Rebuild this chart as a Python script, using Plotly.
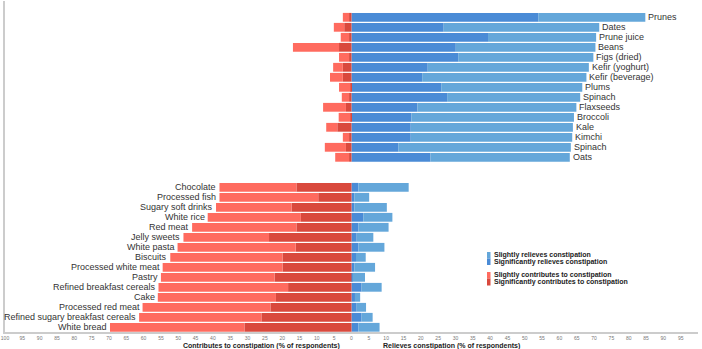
import plotly.graph_objects as go

# ---------------- data (percent of respondents) ----------------
top_foods = ["Prunes", "Dates", "Prune juice", "Beans", "Figs (dried)", "Kefir (yoghurt)",
             "Kefir (beverage)", "Plums", "Spinach", "Flaxseeds", "Broccoli", "Kale",
             "Kimchi", "Spinach", "Oats"]
top_sig_relieve = [53.9, 26.6, 39.4, 30.1, 30.8, 22.0, 20.4, 25.9, 27.6, 19.0, 17.3, 17.1, 17.1, 13.5, 22.8]
top_sli_relieve = [30.9, 44.9, 31.2, 40.3, 39.0, 46.5, 47.4, 40.7, 38.4, 45.9, 46.9, 46.8, 46.6, 49.8, 40.2]
top_sig_contrib = [0.7, 2.1, 0.7, 3.6, 0.7, 2.5, 2.5, 0.3, 0.7, 1.6, 0.3, 4.1, 0.7, 1.6, 0.7]
top_sli_contrib = [1.8, 3.0, 2.4, 13.3, 2.9, 2.8, 3.7, 3.3, 2.1, 6.6, 3.4, 3.2, 1.8, 6.1, 4.0]

bot_foods = ["Chocolate", "Processed fish", "Sugary soft drinks", "White rice", "Red meat",
             "Jelly sweets", "White pasta", "Biscuits", "Processed white meat", "Pastry",
             "Refined breakfast cereals", "Cake", "Processed red meat",
             "Refined sugary breakfast cereals", "White bread"]
bot_sig_contrib = [15.9, 9.6, 17.3, 14.6, 15.9, 23.8, 16.1, 19.9, 19.9, 22.2, 18.3, 21.8, 23.4, 26.0, 30.9]
bot_sli_contrib = [22.2, 28.5, 21.8, 26.9, 30.1, 24.7, 34.1, 32.4, 34.6, 32.8, 37.4, 34.1, 36.9, 35.3, 38.8]
bot_sig_relieve = [2.0, 0.8, 0.8, 3.4, 2.0, 1.5, 2.0, 1.3, 0.8, 0.3, 2.9, 1.0, 1.5, 2.9, 2.0]
bot_sli_relieve = [14.5, 4.3, 9.4, 8.4, 8.7, 4.8, 7.5, 2.8, 6.0, 3.6, 5.8, 1.5, 2.7, 3.2, 6.1]

tick_values = list(range(-100, 101, 5))
tick_labels = [str(abs(v)) for v in tick_values]

legend_labels = ["Slightly relieves constipation", "Significantly relieves constipation",
                 "Slightly contributes to constipation", "Significantly contributes to constipation"]

# ---------------- style ----------------
C_SLI_REL = "#64a7da"
C_SIG_REL = "#4a8bd6"
C_SLI_CON = "#ff6b5f"
C_SIG_CON = "#d9493d"
LABEL_FONT = dict(family="Liberation Sans, Arial, sans-serif", size=9, color="#333333")

# row positions: two blank rows between the groups
top_rows = list(range(len(top_foods)))
gap = 2
bot_rows = [len(top_foods) + gap + i for i in range(len(bot_foods))]

rows = top_rows + bot_rows
sig_rel = top_sig_relieve + bot_sig_relieve
sli_rel = top_sli_relieve + bot_sli_relieve
sig_con = top_sig_contrib + bot_sig_contrib
sli_con = top_sli_contrib + bot_sli_contrib

W = 0.88
fig = go.Figure()
fig.add_trace(go.Bar(y=rows, x=sig_rel, orientation="h", marker_color=C_SIG_REL,
                     width=W, marker_line_width=0, name=legend_labels[1], showlegend=False))
fig.add_trace(go.Bar(y=rows, x=sli_rel, orientation="h", marker_color=C_SLI_REL,
                     width=W, marker_line_width=0, name=legend_labels[0], showlegend=False))
fig.add_trace(go.Bar(y=rows, x=[-v for v in sig_con], orientation="h", marker_color=C_SIG_CON,
                     width=W, marker_line_width=0, name=legend_labels[3], showlegend=False))
fig.add_trace(go.Bar(y=rows, x=[-v for v in sli_con], orientation="h", marker_color=C_SLI_CON,
                     width=W, marker_line_width=0, name=legend_labels[2], showlegend=False))

annotations = []
for r, name, a, b in zip(top_rows, top_foods, top_sig_relieve, top_sli_relieve):
    annotations.append(dict(x=a + b, y=r, xref="x", yref="y", text=name, showarrow=False,
                            xanchor="left", xshift=1, font=LABEL_FONT))
for r, name, a, b in zip(bot_rows, bot_foods, bot_sig_contrib, bot_sli_contrib):
    annotations.append(dict(x=-(a + b), y=r, xref="x", yref="y", text=name, showarrow=False,
                            xanchor="right", xshift=-1, font=LABEL_FONT))

# axis titles
TITLE_FONT = dict(family="Liberation Sans, Arial, sans-serif", size=7, color="#222222")
annotations.append(dict(x=-26, y=0, xref="x", yref="paper", yanchor="top", yshift=-8,
                        text="<b>Contributes to constipation (% of respondents)</b>",
                        showarrow=False, font=TITLE_FONT))
annotations.append(dict(x=29, y=0, xref="x", yref="paper", yanchor="top", yshift=-8,
                        text="<b>Relieves constipation (% of respondents)</b>",
                        showarrow=False, font=TITLE_FONT))

# manual compact legend (paper coordinates derived from plot area l=5, w=693, t=1, h=331)
def px(xp):
    return (xp - 5) / 693.0

def py(yp):
    return (332 - yp) / 331.0

leg_items = [(legend_labels[0], C_SLI_REL, 252.0, 258.5, 255.2),
             (legend_labels[1], C_SIG_REL, 258.5, 265.0, 262.3),
             (legend_labels[2], C_SLI_CON, 272.0, 278.5, 275.2),
             (legend_labels[3], C_SIG_CON, 278.5, 285.5, 282.3)]
shapes = []
for text, col, y0, y1, yc in leg_items:
    shapes.append(dict(type="rect", xref="paper", yref="paper", x0=px(487), x1=px(490.5),
                       y0=py(y1), y1=py(y0), fillcolor=col, line_width=0))
    annotations.append(dict(x=px(491.5), y=py(yc), xref="paper", yref="paper", xanchor="left",
                            yanchor="middle", text="<b>" + text + "</b>", showarrow=False,
                            font=TITLE_FONT))

fig.update_layout(
    barmode="relative",
    width=702, height=349,
    margin=dict(l=5, r=4, t=1, b=17),
    paper_bgcolor="white", plot_bgcolor="white",
    bargap=0.12,
    showlegend=False,
    annotations=annotations,
    shapes=shapes,
    font=dict(family="Liberation Sans, Arial, sans-serif"),
)
fig.update_xaxes(range=[-100, 100], tickvals=tick_values, ticktext=tick_labels,
                 tickfont=dict(size=5, color="#777777"), ticks="", ticklen=0,
                 showgrid=False, zeroline=False,
                 showline=True, linecolor="#cccccc", linewidth=1.5)
fig.update_yaxes(range=[31.47, -1.63], showticklabels=False, showgrid=False, zeroline=False,
                 showline=True, linecolor="#cccccc", linewidth=1.5, ticks="")

fig.write_html("out.html")
